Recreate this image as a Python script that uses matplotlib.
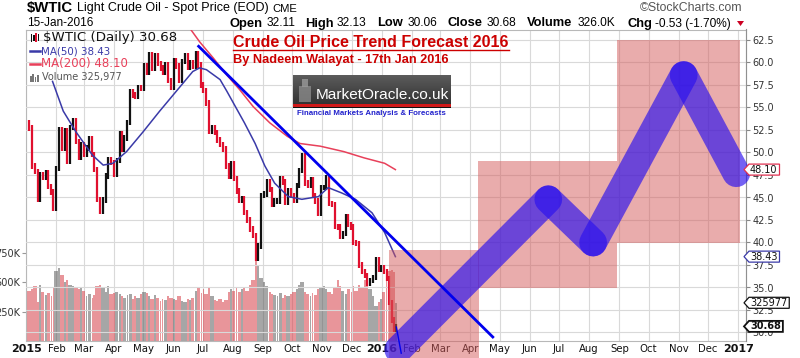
import numpy as np
import pandas as pd
import matplotlib
matplotlib.use("Agg")
import matplotlib.pyplot as plt
import matplotlib.dates as mdates
from matplotlib.patches import Polygon, Rectangle
from matplotlib.lines import Line2D
from matplotlib.transforms import IdentityTransform

W, H = 800, 358

# ---------------- data ----------------
first_open = 53.3
# closes, one every second trading day from 2015-01-02 to 2016-01-15
closes = [
    52.7, 48.5, 47.9, 44.8, 47.5, 47.2, 47.8, 46.2, 45.6, 43.8, 48.2,
    52.5, 50.5, 52.4, 49.0, 52.8, 53.5, 51.2, 49.5, 50.9, 49.8,
    50.5, 51.5, 49.8, 48.1, 44.8, 43.5, 44.7, 47.4, 49.2, 48.9, 47.6,
    49.1, 52.1, 50.4, 51.6, 53.3, 56.7, 56.4, 56.2, 57.2, 57.1, 59.6,
    58.9, 60.9, 59.4, 60.8, 59.9, 59.4, 58.9, 59.7, 58.0, 57.2,
    60.2, 59.6, 58.0, 60.1, 60.8, 59.5, 60.0, 59.6, 61.0, 59.7, 57.5,
    56.9, 55.5, 52.3, 52.8, 52.2, 51.4, 50.9, 50.4, 48.5, 47.4, 48.8, 47.1,
    45.7, 44.7, 44.9, 43.3, 42.5, 41.5, 40.8, 38.2, 39.6, 45.2,
    45.4, 46.8, 45.9, 44.2, 44.6, 44.6, 47.1, 46.7, 44.5, 45.7, 45.2,
    44.7, 46.3, 48.0, 49.6, 46.6, 46.4, 47.0, 45.2, 44.6, 43.2, 46.1,
    46.1, 47.2, 44.3, 44.2, 41.8, 41.7, 40.7, 41.0, 42.9, 42.0, 41.7,
    40.0, 39.9, 37.5, 36.8, 36.3, 35.5, 35.8, 36.1, 38.1, 37.0, 37.2,
    36.8, 36.0, 33.3, 31.4, 30.4, 30.68,
]
volumes_k = [
    430, 440, 470, 330, 480, 420, 390, 410, 380, 450, 600,
    620, 560, 500, 520, 480, 470, 450, 440, 460, 430,
    380, 400, 370, 390, 470, 480, 460, 420, 470, 400, 410,
    420, 400, 380, 370, 390, 400, 360, 380, 370, 400, 420,
    410, 380, 360, 390, 370, 340, 360, 350, 380, 370,
    360, 350, 380, 340, 330, 360, 350, 370, 430, 450, 410,
    440, 400, 460, 380, 350, 340, 360, 330, 350, 420, 440, 430,
    450, 420, 440, 460, 430, 480, 520, 730, 650, 540,
    500, 470, 420, 400, 390, 380, 410, 370, 390, 380, 400,
    420, 440, 480, 500, 420, 400, 380, 410, 390, 440, 450,
    470, 440, 420, 400, 450, 520, 470, 430, 400, 440, 420,
    470, 430, 480, 450, 520, 470, 440, 380, 300, 330, 360,
    420, 560, 600, 610, 590, 326,
]
ma50_dates = ["2015-01-28", "2015-02-08", "2015-02-21", "2015-03-10", "2015-03-21",
              "2015-03-31", "2015-04-14", "2015-05-01", "2015-05-18", "2015-06-04",
              "2015-06-21", "2015-06-28", "2015-07-05", "2015-07-19", "2015-07-26",
              "2015-08-13", "2015-08-24", "2015-09-03", "2015-09-13", "2015-09-27",
              "2015-10-11", "2015-10-28", "2015-11-07", "2015-11-21", "2015-12-05",
              "2015-12-22", "2016-01-04", "2016-01-15"]
ma50_vals = [57.9, 54.6, 52.3, 49.7, 48.6, 48.8, 50.1, 52.3, 54.6, 56.8,
             59.0, 59.4, 59.2, 58.1, 56.8, 53.3, 51.0, 48.5, 46.6, 45.1,
             44.8, 45.1, 46.1, 45.5, 44.8, 43.3, 41.1, 38.43]
ma200_dates = ["2015-06-10", "2015-06-28", "2015-07-12", "2015-07-26", "2015-08-08",
               "2015-08-22", "2015-09-08", "2015-09-26", "2015-10-09", "2015-10-30",
               "2015-11-23", "2015-12-14", "2016-01-04", "2016-01-15"]
ma200_vals = [65.0, 62.3, 60.5, 58.6, 57.0, 55.1, 53.3, 51.8, 51.0, 50.7,
              50.1, 49.4, 48.8, 48.10]
trend_dates = ["2015-06-27", "2016-04-24"]
trend_vals = [61.8, 29.5]
tail_dates = ["2016-01-16", "2016-01-21"]
tail_vals = [30.6, 27.7]
forecast_dates = ["2016-01-18", "2016-06-20", "2016-08-05", "2016-11-06", "2016-12-30"]
forecast_vals = [28.1, 44.8, 40.0, 58.6, 47.7]
zone_starts = ["2016-01-08", "2016-04-09", "2016-08-30"]
zone_ends = ["2016-04-10", "2016-08-30", "2017-01-03"]
zone_lows = [26.5, 35.0, 40.0]
zone_highs = [39.2, 49.0, 62.5]
price_ticks = [30.0, 32.5, 35.0, 37.5, 40.0, 42.5, 45.0, 47.5, 50.0, 52.5, 55.0, 57.5, 60.0, 62.5]
vol_ticks = [250000, 500000, 750000]
vol_tick_labels = ["250K", "500K", "750K"]
last_close = 30.68
last_ma50 = 38.43
last_ma200 = 48.10
last_volume = 325977

# ---------------- figure ----------------
plt.rcParams["font.family"] = ["DejaVu Sans"]
fig = plt.figure(figsize=(W / 100, H / 100), dpi=100, facecolor="white")
renderer = fig.canvas.get_renderer()

ax_left, ax_right, ax_top, ax_bot = 26, 746, 29.5, 341
ax_v = fig.add_axes([ax_left / W, (H - ax_bot) / H, (ax_right - ax_left) / W, (ax_bot - ax_top) / H])
ax = ax_v.twinx()

dates = pd.bdate_range("2015-01-02", "2016-01-15")[::2]
dn = mdates.date2num(dates)
closes_a = np.array(closes)
prev = np.concatenate([[first_open], closes_a[:-1]])
up = closes_a >= prev
gaps = np.diff(np.concatenate([dn, [dn[-1] + 2]]))

x0 = mdates.date2num(pd.Timestamp("2014-12-31 18:00"))
x1 = x0 + (ax_right - ax_left) / 0.974
ax_v.set_xlim(x0, x1)

# volume axis
vol_cols = np.where(up, "#555555", "#d4343e")
ax_v.bar(dn, np.array(volumes_k) * 1000, width=gaps * 0.92, align="edge", color=vol_cols,
         alpha=0.52, lw=0, zorder=2)
ax_v.set_ylim(0, (ax_bot - ax_top) / 29.3 * 250000)
ax_v.set_yticks(vol_ticks)
ax_v.set_yticklabels(vol_tick_labels)
ax_v.tick_params(axis="y", labelsize=7, colors="#333333", length=3, pad=1.5, color="#999999")
month_starts = pd.date_range("2015-01-01", "2017-01-01", freq="MS")
ax_v.set_xticks(mdates.date2num(month_starts))
ax_v.tick_params(axis="x", labelbottom=False, length=0)
ax_v.set_axisbelow(True)
ax_v.grid(axis="x", color="#d9d9d9", lw=0.8)
ax_v.grid(axis="y", visible=False)
for s in ax_v.spines.values():
    s.set_color("#b8b8b8")
    s.set_linewidth(0.8)

# price axis
ax.set_ylim(62.5 - (ax_bot - 40) / 9.0, 62.5 + (40 - ax_top) / 9.0)
ax.set_yticks(price_ticks)
ax.set_yticklabels([f"{v:.1f}" for v in price_ticks])
ax.tick_params(axis="y", labelsize=7, colors="#333333", length=3, pad=1.5, color="#888888")
ax.grid(axis="y", color="#d9d9d9", lw=0.8)
ax.spines["right"].set_color("#909090")
for k in ("left", "top", "bottom"):
    ax.spines[k].set_visible(False)

lo = np.minimum(prev, closes_a) - 0.3
hi = np.maximum(prev, closes_a) + 0.3
cand_cols = np.where(up, "#111111", "#e0102e")
cx = dn + gaps * 0.46
ax.vlines(cx, lo, hi, colors=cand_cols, lw=1.6, zorder=3)

ax.plot(mdates.date2num(pd.to_datetime(ma50_dates)), ma50_vals, color="#3a3aa8", lw=1.1, zorder=4)
ax.plot(mdates.date2num(pd.to_datetime(ma200_dates)), ma200_vals, color="#e8405a", lw=1.1, zorder=4)
ax.plot(mdates.date2num(pd.to_datetime(trend_dates)), trend_vals, color="#0000ee", lw=2.0, zorder=7)
ax.plot(mdates.date2num(pd.to_datetime(tail_dates)), tail_vals, color="#0000ee", lw=1.0, zorder=7, clip_on=False)

for s0, s1, l, h in zip(zone_starts, zone_ends, zone_lows, zone_highs):
    a = mdates.date2num(pd.Timestamp(s0))
    b = mdates.date2num(pd.Timestamp(s1))
    ax.add_patch(Rectangle((a, l), b - a, h - l, facecolor="#d45a5a", alpha=0.5, lw=0,
                           zorder=5, clip_on=False))

fx = mdates.date2num(pd.to_datetime(forecast_dates))
for i in range(len(fx) - 1):
    ax.plot(fx[i:i + 2], forecast_vals[i:i + 2], color="#2a10ee", alpha=0.66, lw=20,
            solid_capstyle="round", zorder=6, clip_on=False)

# x labels
for d in month_starts:
    lab = str(d.year) if d.month == 1 else d.strftime("%b")
    ax_v.annotate(lab, xy=(mdates.date2num(d), 0), xycoords=("data", "axes fraction"),
                  xytext=(0, -8.5), textcoords="offset pixels", ha="center", va="center",
                  fontsize=8 if d.month == 1 else 7.3, fontweight="bold" if d.month == 1 else "normal",
                  color="#111111", annotation_clip=False)


# ---------------- helpers for header texts ----------------
def ftext(x, y, s, size=8, width=None, ha="left", va="center", **kw):
    t = fig.text(x / W, 1 - y / H, s, fontsize=size, ha=ha, va=va, **kw)
    if width:
        bb = t.get_window_extent(renderer)
        t.set_fontsize(size * width / bb.width)
    return t


def pxrect(x, y, w, h, **kw):
    r = Rectangle((x, H - y - h), w, h, transform=IdentityTransform(), **kw)
    fig.add_artist(r)
    return r


AR = ["Liberation Sans", "DejaVu Sans"]
ftext(27, 8, "$WTIC", 10, width=46, fontweight="bold", family=AR)
ftext(77, 8.5, "Light Crude Oil - Spot Price (EOD)", 8.5, width=190, family=AR)
ftext(272, 9, "CME", 7, width=25, family=AR)
ftext(27, 23, "15-Jan-2016", 8.5, width=66, family=AR)
ftext(743, 8, "\u00a9StockCharts.com", 8, width=103, ha="right", color="#555555", family=AR)

hdr = [("Open", 230, True), ("32.11", 267, False), ("High", 305, True), ("32.13", 337, False),
       ("Low", 377, True), ("30.06", 408, False), ("Close", 447, True), ("30.68", 487, False),
       ("Volume", 527, True), ("326.0K", 578, False), ("Chg", 627, True), ("-0.53 (-1.70%)", 655, False)]
for s, x, b in hdr:
    ftext(x, 23.5, s, 9.3 if b else 8.6, fontweight="bold" if b else "normal", family=AR)
fig.add_artist(Polygon([(737, H - 21), (744, H - 21), (740.5, H - 26)], closed=True,
                       transform=IdentityTransform(), facecolor="#cc0022", edgecolor="none"))

# legend top-left
for i, (c, hh) in enumerate([("#111111", 8), ("#111111", 6), ("#e0102e", 9), ("#111111", 7)]):
    pxrect(31 + i * 2.2, 33 + (9 - hh) / 2, 1.3, hh, facecolor=c, edgecolor="none")
ftext(43, 38, "$WTIC (Daily) 30.68", 8.5, width=134, color="#111111")
fig.add_artist(Line2D([30 / W, 40 / W], [1 - 51 / H] * 2, color="#3a3aa8", lw=1.8))
ftext(41, 51, "MA(50) 38.43", 8.5, width=69, color="#3a3aa8")
fig.add_artist(Line2D([30 / W, 40 / W], [1 - 64 / H] * 2, color="#e8405a", lw=1.8))
ftext(41, 64, "MA(200) 48.10", 8.5, width=87, color="#e8405a")
for i, hh in enumerate([6, 8, 5, 7]):
    pxrect(30 + i * 2.4, 82 - hh, 1.5, hh, facecolor="#777777", edgecolor="none")
ftext(42, 77, "Volume 325,977", 8.5, width=80, color="#555555")

# title / subtitle
RED = "#cc0000"
ftext(233, 42.5, "Crude Oil Price Trend Forecast 2016", 10.5, width=276, fontweight="bold", color=RED, family=AR)
fig.add_artist(Line2D([233 / W, 509 / W], [1 - 49.5 / H] * 2, color=RED, lw=1.0))
ftext(233, 59.5, "By Nadeem Walayat - 17th Jan 2016", 8, width=217, fontweight="bold", color=RED, family=AR)

# logo
lax = fig.add_axes([293 / W, 1 - 104 / H, 158 / W, 29 / H])
grad = np.linspace(0.36, 0.2, 30).reshape(-1, 1)
lax.imshow(grad, aspect="auto", cmap="gray", vmin=0, vmax=1, extent=(0, 1, 0, 1))
lax.set_axis_off()
pxrect(293, 104, 158, 2.5, facecolor="#d01818", edgecolor="none")
pxrect(293, 106.5, 158, 1.5, facecolor="#111111", edgecolor="none")
pxrect(299, 86, 12, 16, facecolor="#8a8a8a", edgecolor="none", alpha=0.8)
pxrect(302, 79, 6, 8, facecolor="#9a9a9a", edgecolor="none", alpha=0.8)
ftext(316, 95, "MarketOracle.co.uk", 12, width=134, color="white", family=AR)
ftext(297, 113.5, "Financial Markets Analysis & Forecasts", 6.5, width=148, fontweight="bold",
      color="#2222cc", family=AR)


# right-side value tags
def tag(yd, s, color, bold=False, lw=0.9):
    xL = 744
    t = fig.text((xL + 6) / W, yd / H, s, fontsize=7, ha="left", va="center", color="#111111",
                 fontweight="bold" if bold else "normal", zorder=12)
    bb = t.get_window_extent(renderer)
    xr = bb.x1 + 2
    h = 5.5
    verts = [(xL, yd), (xL + 5, yd + h), (xr, yd + h), (xr, yd - h), (xL + 5, yd - h)]
    fig.add_artist(Polygon(verts, closed=True, facecolor="white", edgecolor=color, lw=lw,
                           transform=IdentityTransform(), zorder=11))


xref = dn[-1]
tag(ax.transData.transform((xref, last_ma200))[1], f"{last_ma200:.2f}", "#e03050")
tag(ax.transData.transform((xref, last_ma50))[1], f"{last_ma50:.2f}", "#3a3aa8")
tag(ax_v.transData.transform((xref, last_volume))[1], f"{last_volume}", "#111111")
tag(ax.transData.transform((xref, last_close))[1], f"{last_close:.2f}", "#111111", bold=True, lw=1.3)

fig.savefig("out.png", dpi=100, facecolor="white")
